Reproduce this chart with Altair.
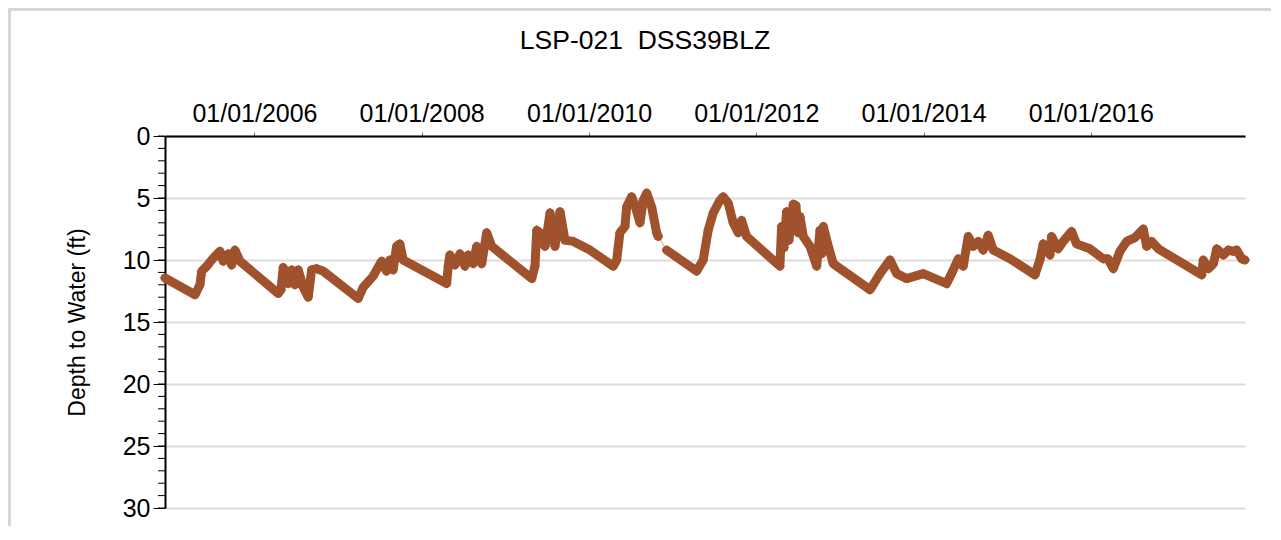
import altair as alt
import pandas as pd

# ---- data ----
decimal_year = [
    2004.930, 2005.289, 2005.348, 2005.369, 2005.429, 2005.488, 2005.528, 2005.588,
    2005.627, 2005.687, 2005.727, 2005.767, 2005.827, 2006.285, 2006.317, 2006.344,
    2006.404, 2006.445, 2006.484, 2006.524, 2006.583, 2006.643, 2006.684, 2006.744,
    2006.822, 2007.241, 2007.301, 2007.420, 2007.461, 2007.521, 2007.580, 2007.620,
    2007.659, 2007.700, 2007.739, 2007.779, 2008.298, 2008.317, 2008.337, 2008.397,
    2008.457, 2008.516, 2008.556, 2008.616, 2008.656, 2008.716, 2008.776, 2008.836,
    2009.314, 2009.353, 2009.374, 2009.413, 2009.473, 2009.533, 2009.592, 2009.652,
    2009.712, 2009.811, 2010.011, 2010.289, 2010.330, 2010.369, 2010.429, 2010.450,
    2010.509, 2010.549, 2010.609, 2010.648, 2010.689, 2010.748, 2010.808, 2010.827,
    # after data gap
    2010.928, 2011.286, 2011.365, 2011.425, 2011.485, 2011.565, 2011.604, 2011.664,
    2011.724, 2011.784, 2011.824, 2011.884, 2012.282, 2012.302, 2012.330, 2012.362,
    2012.390, 2012.441, 2012.473, 2012.500, 2012.521, 2012.561, 2012.641, 2012.721,
    2012.760, 2012.780, 2012.800, 2012.860,
    2012.919, 2013.358, 2013.478, 2013.597, 2013.677, 2013.797, 2013.995, 2014.275,
    2014.354, 2014.414, 2014.473, 2014.533, 2014.593, 2014.653, 2014.712, 2014.772,
    2014.832, 2015.032, 2015.331, 2015.390, 2015.430, 2015.510, 2015.530, 2015.609,
    2015.669, 2015.769, 2015.829, 2015.988, 2016.147, 2016.203, 2016.267, 2016.347,
    2016.427, 2016.526, 2016.625, 2016.666, 2016.726, 2016.805, 2017.323, 2017.342,
    2017.402, 2017.462, 2017.503, 2017.582, 2017.641, 2017.701, 2017.742, 2017.802,
    2017.841,
]
depth_ft = [
    11.45, 12.8, 12.0, 10.9, 10.5, 10.0, 9.7, 9.3,
    10.1, 9.5, 10.4, 9.2, 10.1, 12.7, 12.4, 10.6,
    11.9, 10.8, 12.0, 10.8, 12.2, 13.0, 10.8, 10.7,
    10.9, 13.1, 12.2, 11.3, 10.8, 10.1, 10.9, 10.0,
    10.8, 8.9, 8.7, 10.0, 11.9, 10.5, 9.6, 10.4,
    9.5, 10.5, 9.6, 10.3, 8.9, 10.3, 7.8, 8.9,
    11.5, 10.5, 7.6, 7.8, 8.9, 6.2, 8.9, 6.1,
    8.4, 8.5, 9.2, 10.5, 10.0, 7.8, 7.3, 5.7,
    4.9, 5.6, 7.0, 5.2, 4.6, 5.7, 7.8, 8.1,
    9.2, 10.9, 10.0, 7.6, 6.2, 5.2, 4.9, 5.4,
    7.0, 7.8, 6.8, 8.1, 10.5, 7.3, 9.0, 6.1,
    8.4, 5.5, 5.6, 7.8, 6.5, 8.1, 8.9, 10.5,
    7.6, 9.5, 7.3, 8.9,
    10.3, 12.4, 11.1, 10.0, 11.1, 11.5, 11.1, 11.9,
    10.8, 9.9, 10.5, 8.1, 8.9, 8.5, 9.2, 8.0,
    9.2, 9.9, 11.2, 10.0, 8.7, 9.6, 8.1, 9.1,
    8.5, 7.7, 8.7, 9.1, 9.9, 9.9, 10.7, 9.3,
    8.5, 8.2, 7.5, 8.9, 8.5, 9.1, 11.2, 10.0,
    10.7, 10.3, 9.1, 9.6, 9.2, 9.3, 9.2, 9.9,
    10.0,
]
points_before_gap = 72

tick_dates = ["2006-01-01", "2008-01-01", "2010-01-01", "2012-01-01", "2014-01-01", "2016-01-01"]
major_ticks = [0, 5, 10, 15, 20, 25, 30]
minor_ticks = list(range(0, 31))
title_text = "LSP-021\u00a0 DSS39BLZ"

# ---- table ----
def to_ts(y):
    yr = int(y)
    start = pd.Timestamp(year=yr, month=1, day=1)
    end = pd.Timestamp(year=yr + 1, month=1, day=1)
    return start + (end - start) * (y - yr)

df = pd.DataFrame({
    "date": [to_ts(v) for v in decimal_year],
    "depth": depth_ft,
    "segment": [0 if i < points_before_gap else 1 for i in range(len(depth_ft))],
})

COLOR = "#A0522D"
FONT = "Liberation Sans"
W, H = 1080, 372

x_enc = alt.X(
    "date:T",
    scale=alt.Scale(domain=[df["date"].min().isoformat(), df["date"].max().isoformat()]),
    axis=alt.Axis(
        orient="top", title=None, format="%m/%d/%Y",
        values=[pd.Timestamp(d).isoformat() for d in tick_dates],
        grid=False, domainColor="black", domainWidth=2,
        tickColor="#777777", tickSize=4, tickWidth=1,
        labelFontSize=25, labelFont=FONT, labelColor="black", labelPadding=6,
    ),
)
y_scale = alt.Scale(domain=[0, 30], reverse=True, nice=False)
y_enc = alt.Y(
    "depth:Q", scale=y_scale,
    axis=alt.Axis(
        title="Depth to Water (ft)", titleFontSize=23, titleFont=FONT, titleFontWeight="normal",
        titleColor="black", titlePadding=33,
        values=major_ticks, grid=True, gridColor="#dcdcdc", gridWidth=2,
        domainColor="black", domainWidth=2, tickColor="black", tickSize=12, tickWidth=1,
        labelFontSize=25, labelFont=FONT, labelColor="black", labelPadding=3,
    ),
)

base = alt.Chart(df)
thin = base.mark_line(color=COLOR, strokeWidth=1, opacity=0.6).encode(x=x_enc, y=y_enc)
thick = base.mark_line(color=COLOR, strokeWidth=9, strokeJoin="round", strokeCap="round").encode(
    x="date:T", y="depth:Q", detail="segment:N")
pts = base.mark_point(shape="diamond", filled=True, color=COLOR, size=95, opacity=1).encode(
    x="date:T", y="depth:Q")

minor = alt.Chart(pd.DataFrame({"v": minor_ticks})).mark_rule(color="black", strokeWidth=1).encode(
    y=alt.Y("v:Q", scale=y_scale), x=alt.value(-7), x2=alt.value(0))

title = alt.Chart(pd.DataFrame({"t": [title_text]})).mark_text(
    font=FONT, fontSize=26.5, color="black", align="center", baseline="middle").encode(
    text="t:N", x=alt.value(480), y=alt.value(-95))

frame_top = alt.Chart(pd.DataFrame({"t": [0]})).mark_rule(color="#d6d6d6", strokeWidth=3).encode(
    x=alt.value(-157), x2=alt.value(1110), y=alt.value(-126.5))
frame_left = alt.Chart(pd.DataFrame({"t": [0]})).mark_rule(color="#d6d6d6", strokeWidth=3).encode(
    x=alt.value(-155.5), y=alt.value(-128), y2=alt.value(390))

chart = alt.layer(frame_top, frame_left, thin, thick, pts, minor, title).properties(
    width=W, height=H,
    autosize=alt.AutoSizeParams(type="none"),
    padding={"left": 157, "top": 128, "right": 26, "bottom": 18},
).configure_view(stroke=None)

chart.save("out.html", embed_options={"renderer": "svg", "actions": False})
